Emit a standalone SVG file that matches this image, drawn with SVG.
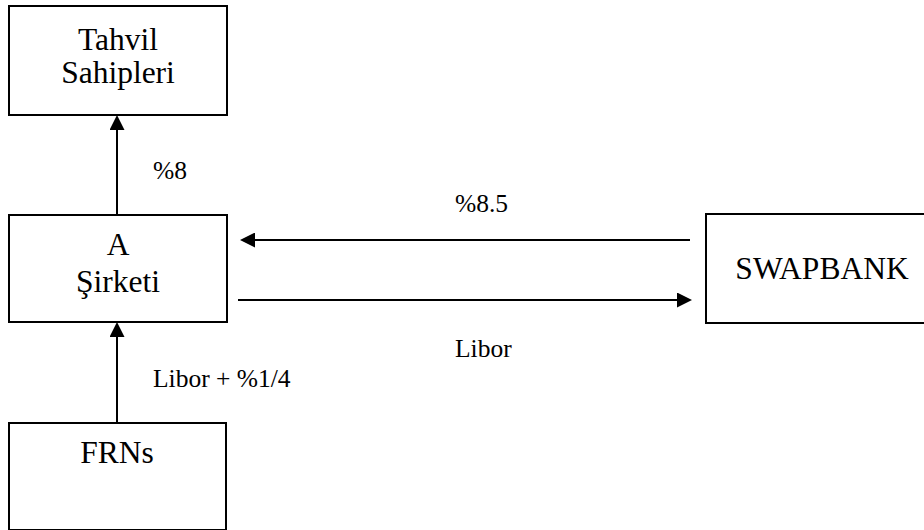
<svg xmlns="http://www.w3.org/2000/svg" width="924" height="530" viewBox="0 0 924 530">
<style>
.box{fill:#fff;stroke:#000;stroke-width:2}
.main{font-size:31.5px;fill:#000;text-anchor:middle}
.lbl{font-size:25.5px;fill:#000}
.conn{stroke:#000;stroke-width:2;fill:none;marker-end:url(#arr)}
</style>
<defs>
<marker id="arr" viewBox="0 0 15 15" markerUnits="userSpaceOnUse" markerWidth="15" markerHeight="15" refX="13" refY="7.5" orient="auto">
<path d="M0,0 L15,7.5 L0,15 z" fill="#000"/>
</marker>
</defs>
<rect width="924" height="530" fill="#fff"/>
<g font-family="'Liberation Serif', 'DejaVu Serif', serif">
<g id="connectors">
<line class="conn" x1="117" y1="215" x2="117" y2="117"/>
<line class="conn" x1="117" y1="423" x2="117" y2="324"/>
<line class="conn" x1="690" y1="240" x2="242" y2="240"/>
<line class="conn" x1="238" y1="300" x2="690" y2="300"/>
<text class="lbl" x="153" y="179">%8</text>
<text class="lbl" x="455" y="212">%8.5</text>
<text class="lbl" x="455" y="357">Libor</text>
<text class="lbl" x="153" y="387">Libor + %1/4</text>
</g>
<g id="tahvil">
<rect class="box" x="9" y="6" width="218" height="109"/>
<text class="main" x="118" y="50">Tahvil</text>
<text class="main" x="118" y="83">Sahipleri</text>
</g>
<g id="asirketi">
<rect class="box" x="9" y="215" width="218" height="107"/>
<text class="main" x="118" y="255">A</text>
<text class="main" x="118" y="292">Şirketi</text>
</g>
<g id="frns">
<rect class="box" x="9" y="423" width="217" height="107"/>
<text class="main" x="117" y="463">FRNs</text>
</g>
<g id="swapbank">
<rect class="box" x="706" y="214" width="222" height="109"/>
<text class="main" x="822" y="279">SWAPBANK</text>
</g>
</g>
</svg>
